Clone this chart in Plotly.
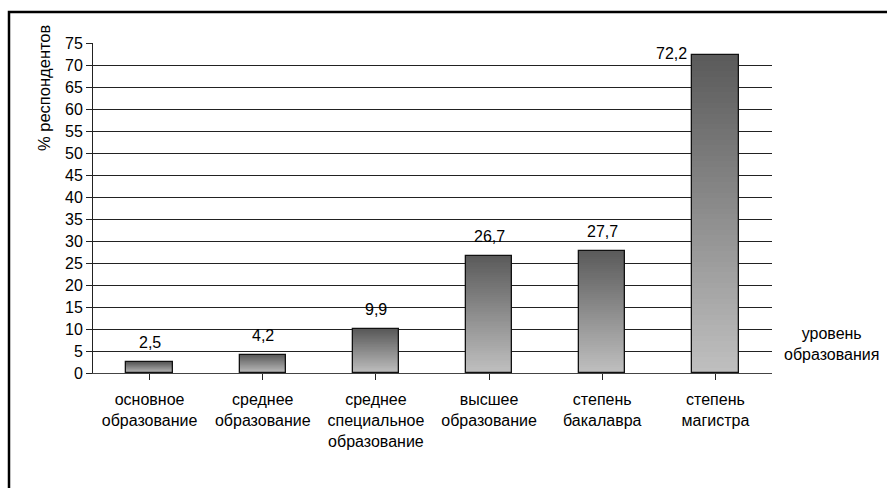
import plotly.graph_objects as go

categories = ["основное<br>образование", "среднее<br>образование",
              "среднее<br>специальное<br>образование", "высшее<br>образование",
              "степень<br>бакалавра", "степень<br>магистра"]
values = [2.5, 4.2, 9.9, 26.7, 27.7, 72.2]
y_ticks = list(range(0, 80, 5))

W, H = 887, 488
L, R, T, B = 93, 115, 43, 115
pw, ph = W - L - R, H - T - B
FS = 16

fig = go.Figure()

# gradient fill: stacked thin slices inside each bar (dark top -> light bottom)
N = 60
top_c, bot_c = (90, 90, 90), (192, 192, 192)
for k in range(N):
    f0 = k / N
    fm = (k + 0.5) / N
    c = tuple(round(bot_c[j] + (top_c[j] - bot_c[j]) * fm) for j in range(3))
    fig.add_trace(go.Bar(
        x=list(range(len(categories))),
        y=[v / N * 1.02 if k < N - 1 else v / N for v in values],
        base=[v * f0 for v in values],
        width=0.41,
        marker=dict(color="rgb(%d,%d,%d)" % c, line=dict(width=0)),
        hoverinfo="skip", showlegend=False,
    ))

# outline
fig.add_trace(go.Bar(
    x=list(range(len(categories))), y=values, width=0.41,
    marker=dict(color="rgba(0,0,0,0)", line=dict(color="#111", width=1.3)),
    showlegend=False,
))

for i, v in enumerate(values):
    txt = ("%.1f" % v).replace(".", ",")
    if v > 70:
        fig.add_annotation(x=i, y=v, text=txt, showarrow=False, xref="x", yref="y",
                           xanchor="right", yanchor="middle", xshift=-26, yshift=2,
                           font=dict(size=FS, color="#000"))
    else:
        fig.add_annotation(x=i, y=v, text=txt, showarrow=False, xref="x", yref="y",
                           xanchor="center", yanchor="bottom", yshift=9,
                           font=dict(size=FS, color="#000"))

fig.add_annotation(text="% респондентов", textangle=-90, showarrow=False,
                   xref="paper", yref="paper",
                   x=(44 - L) / pw, y=(H - B - 88) / ph,
                   xanchor="center", yanchor="middle",
                   font=dict(size=16.5, color="#000"))
fig.add_annotation(text="уровень<br>образования", showarrow=False,
                   xref="paper", yref="paper",
                   x=(832 - L) / pw, y=(H - B - 344) / ph,
                   xanchor="center", yanchor="middle",
                   font=dict(size=FS, color="#000"))

# outer frame
fig.add_shape(type="rect", xref="paper", yref="paper",
              x0=(9 - L) / pw, x1=(900 - L) / pw,
              y0=(H - B - 500) / ph, y1=(H - B - 12) / ph,
              line=dict(color="#000", width=2.5), layer="below")

fig.update_layout(
    width=W, height=H,
    margin=dict(l=L, r=R, t=T, b=B),
    paper_bgcolor="white", plot_bgcolor="white",
    barmode="overlay", bargap=0,
    font=dict(family="Liberation Sans, Arial, sans-serif", size=FS, color="#000"),
    xaxis=dict(
        tickmode="array", tickvals=list(range(len(categories))), ticktext=categories,
        range=[-0.5, len(categories) - 0.5],
        ticks="outside", tickson="boundaries", ticklen=6, tickcolor="#222",
        showline=True, linecolor="#444", linewidth=1,
        showgrid=False, zeroline=False, tickfont=dict(size=FS),
        ticklabelstandoff=6,
    ),
    yaxis=dict(
        range=[0, 75], tickvals=y_ticks, ticks="outside", ticklen=6, tickcolor="#222",
        showline=True, linecolor="#222", linewidth=1,
        showgrid=True, gridcolor="#222", gridwidth=1, zeroline=False,
        tickfont=dict(size=FS),
    ),
)

fig.write_html("out.html")
